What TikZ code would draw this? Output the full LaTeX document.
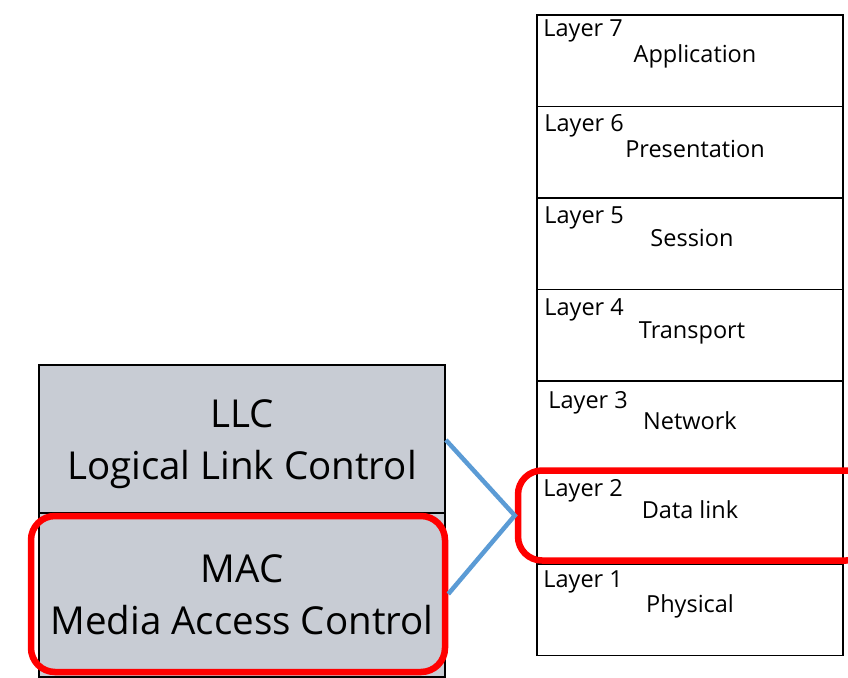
\documentclass[tikz,border=0pt]{standalone}
\usepackage{fontspec}
\setmainfont{Open Sans}
\usetikzlibrary{positioning}
\definecolor{subgray}{RGB}{200,204,212}
\definecolor{hlred}{RGB}{255,0,0}
\definecolor{linkblue}{RGB}{91,155,213}
\tikzset{
    sublayer/.style={draw=black, line width=1.8pt, fill=subgray, minimum width=406pt,
        align=center, text depth=0pt, font=\fontsize{38.5}{52}\selectfont},
    osilayer/.style={draw=black, line width=1.6pt, fill=white, minimum width=306pt,
        minimum height=91.5pt, inner sep=0pt},
    layernum/.style={inner sep=0pt, font=\fontsize{23.5}{28}\selectfont},
    layername/.style={anchor=base, inner sep=0pt, font=\fontsize{23.5}{28}\selectfont},
    highlight/.style={draw=hlred, line width=6.5pt, rounded corners=24pt, inner sep=0pt},
}

\begin{document}
\begin{tikzpicture}[x=1pt, y=-1pt]
    \useasboundingbox (0,0) rectangle (848,677);

    % Sublayers
    \node[sublayer, minimum height=150pt] (LLC) at (242,440) {LLC\\Logical Link Control};
    \node[sublayer, minimum height=164pt] (MAC) at (242,595) {MAC\\Media Access Control};

    % OSI stack
    \node[osilayer] (L7) at (690,60.75) {};
    \node[osilayer] (L6) at (690,152.25) {};
    \node[osilayer] (L5) at (690,243.75) {};
    \node[osilayer] (L4) at (690,335.25) {};
    \node[osilayer] (L3) at (690,426.75) {};
    \node[osilayer] (L2) at (690,518.25) {};
    \node[osilayer] (L1) at (690,609.75) {};

    % Layer numbers
    \node[layernum, below right=5pt and 7pt of L7.north west] (N7) {Layer 7};
    \node[layernum, below right=9pt and 8pt of L6.north west] (N6) {Layer 6};
    \node[layernum, below right=9pt and 8pt of L5.north west] (N5) {Layer 5};
    \node[layernum, below right=10pt and 8pt of L4.north west] (N4) {Layer 4};
    \node[layernum, below right=11pt and 12pt of L3.north west] (N3) {Layer 3};
    \node[layernum, below right=8pt and 7pt of L2.north west] (N2) {Layer 2};
    \node[layernum, below right=7pt and 7pt of L1.north west] (N1) {Layer 1};

    % Layer names
    \node[layername] (T7) at ([shift={(5,2)}]L7.center) {Application};
    \node[layername] (T6) at ([shift={(5,5)}]L6.center) {Presentation};
    \node[layername] (T5) at ([shift={(2,3)}]L5.center) {Session};
    \node[layername] (T4) at ([shift={(2,3)}]L4.center) {Transport};
    \node[layername] (T3) at ([shift={(0,3)}]L3.center) {Network};
    \node[layername] (T2) at ([shift={(0,0)}]L2.center) {Data link};
    \node[layername] (T1) at ([shift={(0,3)}]L1.center) {Physical};

    % Highlights
    \node[highlight, minimum width=414pt, minimum height=156pt] (MAChl) at (238,594) {};
    \node[highlight, minimum width=352pt, minimum height=90pt] (L2hl) at (694,515.5) {};

    % Link
    \draw[linkblue, line width=4.5pt] (LLC.east) -- (L2hl.west) -- (MAChl.east);
\end{tikzpicture}
\end{document}
